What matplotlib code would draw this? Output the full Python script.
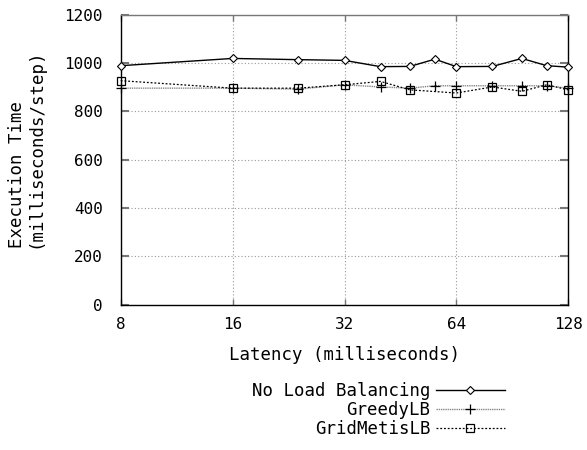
import matplotlib
matplotlib.use("Agg")
import matplotlib.pyplot as plt
import numpy as np

latency = [8, 16, 24, 32, 40, 48, 56, 64, 80, 96, 112, 128]
no_lb = [989, 1019, 1014, 1011, 985, 986, 1016, 985, 986, 1019, 989, 983]
greedy = [896, 896, 892, 910, 901, 896, 906, 906, 906, 906, 906, 896]
gm_latency = [8, 16, 24, 32, 40, 48, 64, 80, 96, 112, 128]
gridmetis = [927, 896, 896, 910, 924, 889, 876, 901, 883, 910, 889]

xticks = [8, 16, 32, 64, 128]
yticks = [0, 200, 400, 600, 800, 1000, 1200]

plt.rcParams['font.family'] = ['DejaVu Sans Mono']

fig = plt.figure(figsize=(5.87, 4.5), dpi=100)
ax = fig.add_axes([120.7/587, 1-304.7/450, (568.3-120.7)/587, (304.7-14.7)/450])

ax.set_xscale('log', base=2)
ax.set_xlim(8, 128)
ax.set_ylim(0, 1200)

ax.plot(latency, no_lb, color='black', lw=1.0, marker='D', ms=4.5, mfc='white',
        mec='black', mew=0.8, label='No Load Balancing', clip_on=False, zorder=5)
ax.plot(latency, greedy, color='#888888', lw=1.0, ls=(0, (1, 0.6)), marker='+', ms=7,
        mec='black', mew=0.9, label='GreedyLB', clip_on=False, zorder=4)
ax.plot(gm_latency, gridmetis, color='black', lw=0.9, ls=(0, (1.5, 1.5)), marker='s', ms=6,
        mfc='none', mec='black', mew=0.9, label='GridMetisLB', clip_on=False, zorder=4)

ax.set_xticks(xticks)
ax.set_xticklabels([str(v) for v in xticks])
ax.xaxis.set_minor_locator(matplotlib.ticker.NullLocator())
ax.set_yticks(yticks)
ax.set_yticklabels([str(v) for v in yticks])

ax.grid(True, color='#999999', ls=(0, (1, 2)), lw=0.8)
ax.tick_params(axis='y', direction='in', length=6, width=1.5, color='#777777',
               left=True, right=True, labelsize=11.5, pad=13)
ax.tick_params(axis='x', direction='in', length=4, width=1, color='#777777',
               bottom=True, top=True, labelsize=11.5, pad=9)
for s in ax.spines.values():
    s.set_color('black')
    s.set_linewidth(1.0)
ax.spines['top'].set_color('#777777')

ax.set_xlabel('Latency (milliseconds)', fontsize=12.5, labelpad=10)
fig.text(26/587, 1-248/450, 'Execution Time\n(milliseconds/step)', rotation=90,
         ha='center', va='bottom', multialignment='left', fontsize=12.5,
         linespacing=1.0)

leg = ax.legend(loc='upper right', bbox_to_anchor=(505/587, 1-382/450),
                bbox_transform=fig.transFigure, frameon=False, markerfirst=False,
                fontsize=12.5, handlelength=4.0, handletextpad=0.3,
                labelspacing=0.05, borderpad=0, borderaxespad=0)

fig.savefig('out.png', dpi=100)
